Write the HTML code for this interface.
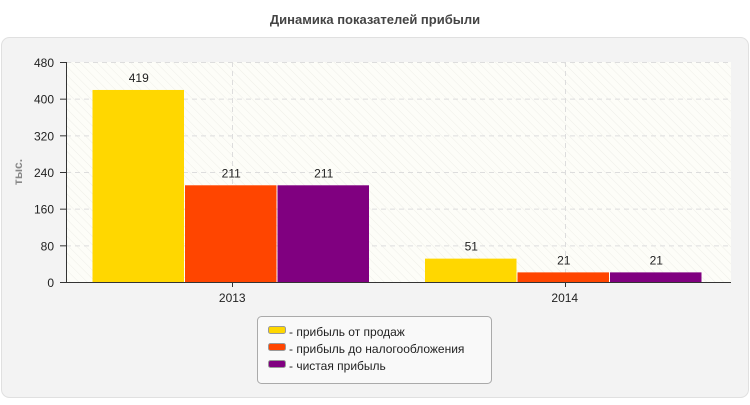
<!DOCTYPE html>
<html><head><meta charset="utf-8"><style>
body{margin:0;background:#fff;font-family:"Liberation Sans",sans-serif;}
svg text{font-family:"Liberation Sans",sans-serif;}
</style></head><body>
<svg width="750" height="400" xmlns="http://www.w3.org/2000/svg">
<defs>
<pattern id="hatch" width="6" height="6" patternUnits="userSpaceOnUse" patternTransform="rotate(-45)">
<rect width="6" height="6" fill="#fdfdf8"/><line x1="0" y1="0" x2="0" y2="6" stroke="#eeeee8" stroke-width="1"/>
</pattern>
</defs>
<text x="375" y="24" text-anchor="middle" font-size="13" font-weight="bold" fill="#444">Динамика показателей прибыли</text>
<rect x="1.5" y="37.5" width="747" height="360" rx="8" fill="#f3f3f3" stroke="#e0e0e0"/>
<rect x="66" y="62" width="665" height="220" fill="url(#hatch)"/>
<g id="grid"></g>
<g id="bars"></g>
<g id="axes"></g>
<text transform="translate(22,172) rotate(-90)" text-anchor="middle" font-size="12" font-weight="bold" fill="#888">тыс.</text>
<g>
<rect x="257.5" y="316.5" width="234" height="67" rx="4" fill="#f9f9f9" stroke="#aaa"/>
<g id="legend"></g>
</g>
</svg>
<script>
const categories=["2013","2014"];
const seriesNames=["- прибыль от продаж","- прибыль до налогообложения","- чистая прибыль"];
const salesProfit=[419,51];
const pretaxProfit=[211,21];
const netProfit=[211,21];
const yTicks=[0,80,160,240,320,400,480];
const colors=["#ffd700","#ff4500","#800080"];
const series=[salesProfit,pretaxProfit,netProfit];
const NS="http://www.w3.org/2000/svg";
const X0=66,X1=731,Y0=282,Y1=62,YMAX=480;
const y=v=>Y0-(v/YMAX)*(Y0-Y1);
const catW=(X1-X0)/categories.length;
const cx=i=>X0+catW*(i+0.5);
function mk(tag,attrs,parent){const e=document.createElementNS(NS,tag);for(const k in attrs)e.setAttribute(k,attrs[k]);parent.appendChild(e);return e;}
const grid=document.getElementById('grid'),bars=document.getElementById('bars'),axes=document.getElementById('axes'),legend=document.getElementById('legend');
yTicks.forEach(t=>{
 if(t>0){const l=mk('line',{x1:X0,x2:X1,y1:y(t)+0.5,y2:y(t)+0.5,stroke:'#ddd','stroke-dasharray':'5,4'},grid);
 
 }
 const tk=mk('line',{x1:60,x2:66,y1:y(t)+0.5,y2:y(t)+0.5,stroke:'#333'},axes);
 
 
 const tx=mk('text',{x:54,y:y(t)+5,'text-anchor':'end','font-size':12,fill:'#222'},axes);tx.textContent=t;
 
 
});
categories.forEach((c,i)=>{
 const g=mk('line',{x1:Math.round(cx(i))+0.5,x2:Math.round(cx(i))+0.5,y1:Y1,y2:Y0,stroke:'#ddd','stroke-dasharray':'5,4'},grid);
 
 
 const bw=92.5,start=X0+catW*i+26.5;
 series.forEach((s,j)=>{
  const bx=start+j*bw;
  const r=mk('rect',{x:bx,y:y(s[i]),width:bw-1,height:Y0-y(s[i]),fill:colors[j]},bars);
  
  
  const t=mk('text',{x:bx+bw/2,y:y(s[i])-8,'text-anchor':'middle','font-size':12,fill:'#222'},bars);t.textContent=s[i];
  
  
 });
 const tk=mk('line',{x1:Math.round(cx(i))+0.5,x2:Math.round(cx(i))+0.5,y1:Y0,y2:Y0+5,stroke:'#333'},axes);
 
 
 const tx=mk('text',{x:cx(i),y:Y0+20,'text-anchor':'middle','font-size':12,fill:'#222'},axes);tx.textContent=c;
 
 
});
const ya=mk('line',{x1:X0+0.5,x2:X0+0.5,y1:Y1,y2:Y0,stroke:'#333'},axes);


const xa=mk('line',{x1:X0,x2:X1,y1:Y0+0.5,y2:Y0+0.5,stroke:'#333'},axes);


seriesNames.forEach((n,j)=>{
 const yy=332+j*17;
 const sw=mk('rect',{x:268.5,y:yy-5.5,width:17,height:7,rx:2,fill:colors[j],stroke:'#999'},legend);
 
 
 const t=mk('text',{x:289,y:yy+4,'font-size':12,fill:'#222'},legend);t.textContent=n;
 
 
});
</script>
</body></html>
